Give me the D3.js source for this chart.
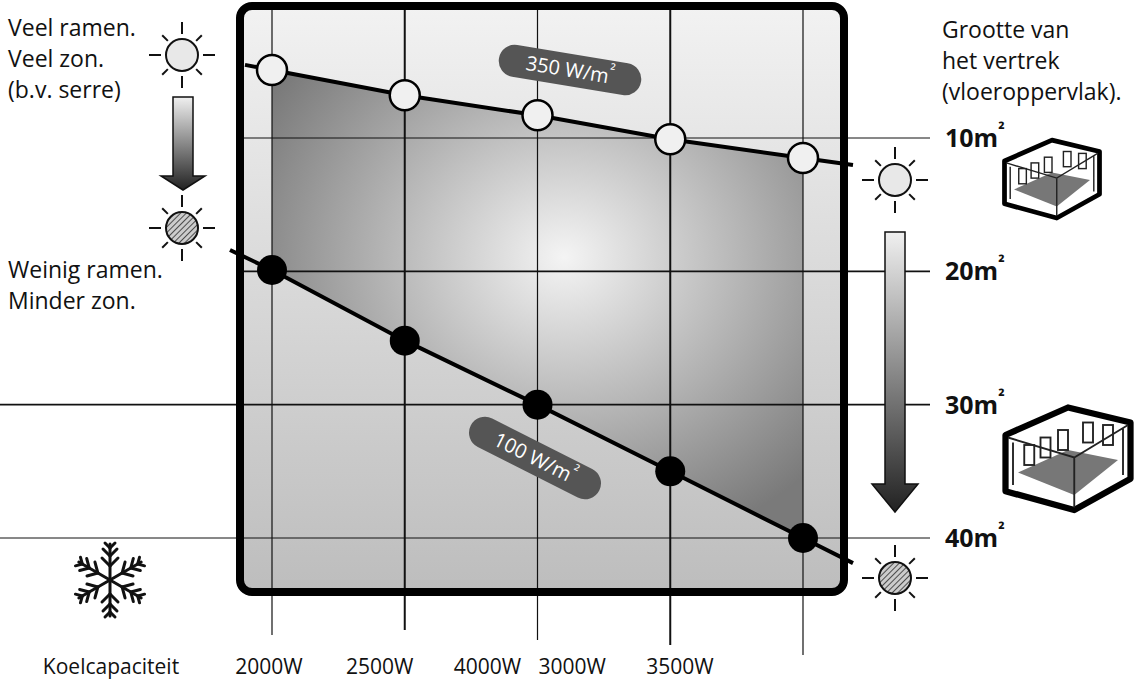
<!DOCTYPE html><html><head><meta charset="utf-8"><script src="https://cdn.jsdelivr.net/npm/d3@7"></script>
<style>body{margin:0;background:#fff}text{font-family:"Open Sans",Lato,sans-serif}</style></head><body>
<svg id="c" width="1145" height="687"></svg>
<script>
const capacities=["2000W","2500W","3000W","3500W","4000W"];
const tickLabels=["2000W","2500W","4000W","3000W","3500W"];
const tickLabelOffsets=[-3,-25,-50,-98,-123];
const highSun=[4.9,6.8,8.3,10.1,11.5];
const lowSun=[19.9,25.2,30,35,40];
const roomTicks=[10,20,30,40];
const svg=d3.select("#c");
const x=d3.scalePoint().domain(d3.range(5)).range([272,803]);
const y=d3.scaleLinear().domain([10,40]).range([138,538]);
const defs=svg.append("defs");
const bg=defs.append("linearGradient").attr("id","bg").attr("x1",0).attr("x2",0).attr("y1",0).attr("y2",1);
bg.append("stop").attr("offset",0).attr("stop-color","#f2f2f2");bg.append("stop").attr("offset",1).attr("stop-color","#bdbdbd");
const rg=defs.append("radialGradient").attr("id","rg").attr("cx",0.55).attr("cy",0.4).attr("r",0.65);
rg.append("stop").attr("offset",0).attr("stop-color","#f4f4f4");rg.append("stop").attr("offset",1).attr("stop-color","#7a7a7a");
const ag=defs.append("linearGradient").attr("id","ag").attr("x1",0).attr("x2",0).attr("y1",0).attr("y2",1);
ag.append("stop").attr("offset",0).attr("stop-color","#f0f0f0");ag.append("stop").attr("offset",1).attr("stop-color","#222");
const hp=defs.append("pattern").attr("id","hatch").attr("width",4).attr("height",4).attr("patternUnits","userSpaceOnUse").attr("patternTransform","rotate(45)");
hp.append("rect").attr("width",4).attr("height",4).attr("fill","#ccc");hp.append("line").attr("x1",0).attr("y1",0).attr("x2",0).attr("y2",4).attr("stroke","#222").attr("stroke-width",1.5);
svg.append("rect").attr("x",240).attr("y",6).attr("width",604).attr("height",586).attr("rx",12).attr("fill","url(#bg)");
const area=d3.area().x((d,i)=>x(i)).y0(d=>y(d[0])).y1(d=>y(d[1]));
svg.append("path").datum(highSun.map((v,i)=>[v,lowSun[i]])).attr("d",area).attr("fill","url(#rg)");
x.domain().forEach(i=>svg.append("line").attr("x1",x(i)).attr("x2",x(i)).attr("y1",6).attr("y2",[635,630,640,645,655][i]).attr("stroke","#111").attr("stroke-width",i%2?2:1.2));
roomTicks.forEach(t=>{svg.append("line").attr("x1",t<=20?240:0).attr("x2",930).attr("y1",y(t)).attr("y2",y(t)).attr("stroke","#111").attr("stroke-width",t==20||t==30?1.6:1);
 const tx=svg.append("text").attr("x",945).attr("y",y(t)+9).attr("font-size",25).attr("font-weight",700).attr("fill","#111").text(t+"m");
 tx.append("tspan").attr("dy",-11).attr("font-size",17).text("²");});
svg.append("rect").attr("x",240).attr("y",6).attr("width",604).attr("height",586).attr("rx",12).attr("fill","none").attr("stroke","#000").attr("stroke-width",8);
function ext(vals){const s0=vals[1]-vals[0],s1=vals[4]-vals[3];return [[x(0)-27,y(vals[0]-s0*27/132.75)],...vals.map((v,i)=>[x(i),y(v)]),[x(4)+50,y(vals[4]+s1*50/132.75)]];}
svg.append("path").attr("d",d3.line()(ext(highSun))).attr("fill","none").attr("stroke","#000").attr("stroke-width",4);
svg.append("path").attr("d",d3.line()(ext(lowSun).map((p,i)=>i==0?[230,250]:p))).attr("fill","none").attr("stroke","#000").attr("stroke-width",4);
svg.selectAll(".h").data(highSun).join("circle").attr("cx",(d,i)=>x(i)).attr("cy",d=>y(d)).attr("r",15).attr("fill","#f0f0f0").attr("stroke","#000").attr("stroke-width",2.5);
svg.selectAll(".l").data(lowSun).join("circle").attr("cx",(d,i)=>x(i)).attr("cy",d=>y(d)).attr("r",15).attr("fill","#000");
function pill(cx,cy,ang,txt){const g=svg.append("g").attr("transform",`translate(${cx},${cy}) rotate(${ang})`);
 g.append("rect").attr("x",-72).attr("y",-16).attr("width",144).attr("height",32).attr("rx",16).attr("fill","#555");
 const t=g.append("text").attr("text-anchor","middle").attr("y",7).attr("fill","#fff").attr("font-size",20).text(txt+"/m");t.append("tspan").attr("dy",-8).attr("font-size",15).text("²");}
pill(570,70,9.4,"350 W");pill(535,458,26.8,"100 W");
function sun(cx,cy,fill){const g=svg.append("g").attr("transform",`translate(${cx},${cy})`);
 d3.range(8).forEach(k=>{const a=k*Math.PI/4,r1=k%2?20:21,r2=k%2?28:33;g.append("line").attr("x1",r1*Math.cos(a)).attr("y1",r1*Math.sin(a)).attr("x2",r2*Math.cos(a)).attr("y2",r2*Math.sin(a)).attr("stroke","#111").attr("stroke-width",2);});
 g.append("circle").attr("r",16).attr("fill",fill).attr("stroke","#111").attr("stroke-width",2);}
sun(182,55,"#e8e8e8");sun(182,228,"url(#hatch)");sun(895,180,"#e8e8e8");sun(895,578,"url(#hatch)");
function arrow(cx,top,bot,w,hw,hh){svg.append("path").attr("d",`M${cx-w/2},${top}H${cx+w/2}V${bot-hh}H${cx+hw/2}L${cx},${bot}L${cx-hw/2},${bot-hh}H${cx-w/2}Z`).attr("fill","url(#ag)").attr("stroke","#111").attr("stroke-width",1.5);}
arrow(183,97,190,20,44,14);arrow(895,232,512,20,46,28);
function lines(xx,yy,arr,fs,lh){arr.forEach((s,i)=>svg.append("text").attr("x",xx).attr("y",yy+i*lh).attr("font-size",fs).attr("fill","#111").text(s));}
lines(8,36,["Veel ramen.","Veel zon.","(b.v. serre)"],23,31);
lines(8,278,["Weinig ramen.","Minder zon."],23,31);
lines(942,38,["Grootte van","het vertrek","(vloeroppervlak)."],23,31);
svg.append("text").attr("x",111).attr("y",674).attr("text-anchor","middle").attr("font-size",21).attr("fill","#111").text("Koelcapaciteit");
tickLabels.forEach((t,i)=>svg.append("text").attr("x",x(i)+tickLabelOffsets[i]).attr("y",674).attr("text-anchor","middle").attr("font-size",21).attr("fill","#111").text(t));
const sf=svg.append("g").attr("transform","translate(110,580)").attr("stroke","#111").attr("stroke-width",3).attr("stroke-linecap","round");
d3.range(6).forEach(k=>{const g=sf.append("g").attr("transform",`rotate(${k*60})`);g.append("line").attr("x1",0).attr("y1",0).attr("x2",0).attr("y2",-36);
 [-14,-24,-32].forEach((yy,j)=>{const l=[8,7,5][j];g.append("line").attr("x1",0).attr("y1",yy).attr("x2",-l).attr("y2",yy-l);g.append("line").attr("x1",0).attr("y1",yy).attr("x2",l).attr("y2",yy-l);});});
function room(cx,cy,s){const g=svg.append("g").attr("transform",`translate(${cx},${cy}) scale(${s})`);
 g.append("path").attr("d","M-50,-20 L0,-42 L50,-30 L50,15 L5,40 L-50,25Z").attr("fill","#fff").attr("stroke","#000").attr("stroke-width",5).attr("stroke-linejoin","round");
 g.append("path").attr("d","M-40,10 L0,-8 L40,0 L5,28Z").attr("fill","#777");
 g.append("path").attr("d","M-48,-18 L5,-2 L48,-28 M5,-2 V38 M-44,-14V20 M44,-26V12").attr("fill","none").attr("stroke","#222").attr("stroke-width",1.5);
 [[-35,-12],[-22,-18],[-8,-24],[12,-30],[28,-28]].forEach(p=>g.append("rect").attr("x",p[0]).attr("y",p[1]).attr("width",8).attr("height",16).attr("fill","none").attr("stroke","#222").attr("stroke-width",1.5));}
room(1052,180,0.95);room(1068,460,1.25);
</script></body></html>
